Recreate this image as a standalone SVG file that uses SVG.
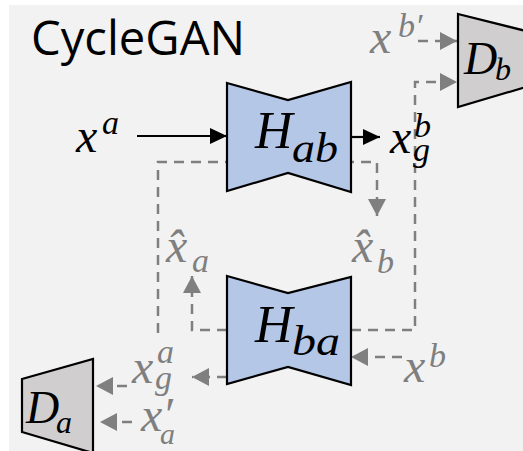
<svg xmlns="http://www.w3.org/2000/svg" width="523" height="451" viewBox="0 0 523 451">
<style>
.m{font-family:"Liberation Serif","DejaVu Serif",serif;font-style:italic}
.k{fill:#000}
.g{fill:#7f7f7f}
.sol{stroke:#000;stroke-width:2.2;fill:none}
.dsh{stroke:#7f7f7f;stroke-width:2.5;fill:none;stroke-dasharray:10 7}
.gen{fill:#b4c7e7;stroke:#000;stroke-width:2.2}
.dis{fill:#d0cece;stroke:#000;stroke-width:2.2}
</style>
<defs>
<marker id="ak" markerUnits="userSpaceOnUse" markerWidth="18" markerHeight="16" refX="17" refY="8" orient="auto">
<path d="M0,0 L17,8 L0,16 z" fill="#000"/>
</marker>
<marker id="ag" markerUnits="userSpaceOnUse" markerWidth="18" markerHeight="18" refX="17" refY="9" orient="auto">
<path d="M0,0 L17,9 L0,18 z" fill="#7f7f7f"/>
</marker>
</defs>
<rect x="9" y="5" width="514" height="446" fill="#f2f2f2"/>
<text x="31" y="55" font-family="Open Sans, Liberation Sans, sans-serif" font-size="48" textLength="214" lengthAdjust="spacingAndGlyphs" fill="#000">CycleGAN</text>

<g id="connectors">
<line class="sol" x1="137" y1="136" x2="227" y2="136" marker-end="url(#ak)"/>
<line class="sol" x1="351" y1="137" x2="380" y2="137" marker-end="url(#ak)"/>
<line class="dsh" x1="418" y1="41" x2="457" y2="41" marker-end="url(#ag)"/>
<polyline class="dsh" points="351,330 415,330 415,82 457,82" marker-end="url(#ag)"/>
<polyline class="dsh" points="158,333 158,162 377,162 377,216" marker-end="url(#ag)"/>
<polyline class="dsh" points="227,330 192,330 192,276" marker-end="url(#ag)"/>
<line class="dsh" x1="402" y1="357" x2="351" y2="357" marker-end="url(#ag)"/>
<line class="dsh" x1="227" y1="377" x2="192" y2="377" marker-end="url(#ag)"/>
<line class="dsh" x1="127" y1="386" x2="96" y2="386" marker-end="url(#ag)"/>
<line class="dsh" x1="132" y1="422" x2="100" y2="422" marker-end="url(#ag)"/>
</g>

<g id="Hab">
<polygon class="gen" points="227,83 288,100 351,82 351,192 288,173 227,191"/>
<text class="m k" x="255" y="148" font-size="52">H</text>
<text class="m k" x="292" y="162" font-size="42" textLength="46" lengthAdjust="spacingAndGlyphs">ab</text>
</g>

<g id="Hba">
<polygon class="gen" points="227,276 288,293 351,277 351,385 288,367 227,384"/>
<text class="m k" x="255" y="342" font-size="52">H</text>
<text class="m k" x="292" y="355" font-size="42" textLength="48" lengthAdjust="spacingAndGlyphs">ba</text>
</g>

<g id="Db">
<polygon class="dis" points="458,14 526,31 526,87 458,107"/>
<text class="m k" x="464" y="74" font-size="46">D</text>
<text class="m k" x="495" y="80" font-size="32">b</text>
</g>

<g id="Da">
<polygon class="dis" points="22,379 93,359 93,453 22,432"/>
<text class="m k" x="26" y="423" font-size="46">D</text>
<text class="m k" x="56" y="433" font-size="32">a</text>
</g>

<g id="xa">
<text class="m k" x="76" y="152" font-size="48">x</text>
<text class="m k" x="102" y="134" font-size="34">a</text>
</g>

<g id="xgb">
<text class="m k" x="390" y="153" font-size="48">x</text>
<text class="m k" x="414" y="137" font-size="34">b</text>
<text class="m k" x="413" y="161" font-size="34">g</text>
</g>

<g id="xbp">
<text class="m g" x="370" y="53" font-size="48">x</text>
<text class="m g" x="398" y="37" font-size="34">b′</text>
</g>

<g id="xhb">
<text class="m g" x="352" y="262" font-size="48">x̂</text>
<text class="m g" x="377" y="273" font-size="34">b</text>
</g>

<g id="xha">
<text class="m g" x="166" y="262" font-size="48">x̂</text>
<text class="m g" x="192" y="272" font-size="34">a</text>
</g>

<g id="xb">
<text class="m g" x="404" y="382" font-size="48">x</text>
<text class="m g" x="429" y="367" font-size="34">b</text>
</g>

<g id="xga">
<text class="m g" x="132" y="383" font-size="48">x</text>
<text class="m g" x="157" y="363" font-size="34">a</text>
<text class="m g" x="155" y="389" font-size="34">g</text>
</g>

<g id="xpa">
<text class="m g" x="141" y="431" font-size="48">x′</text>
<text class="m g" x="160" y="444" font-size="30">a</text>
</g>
</svg>
